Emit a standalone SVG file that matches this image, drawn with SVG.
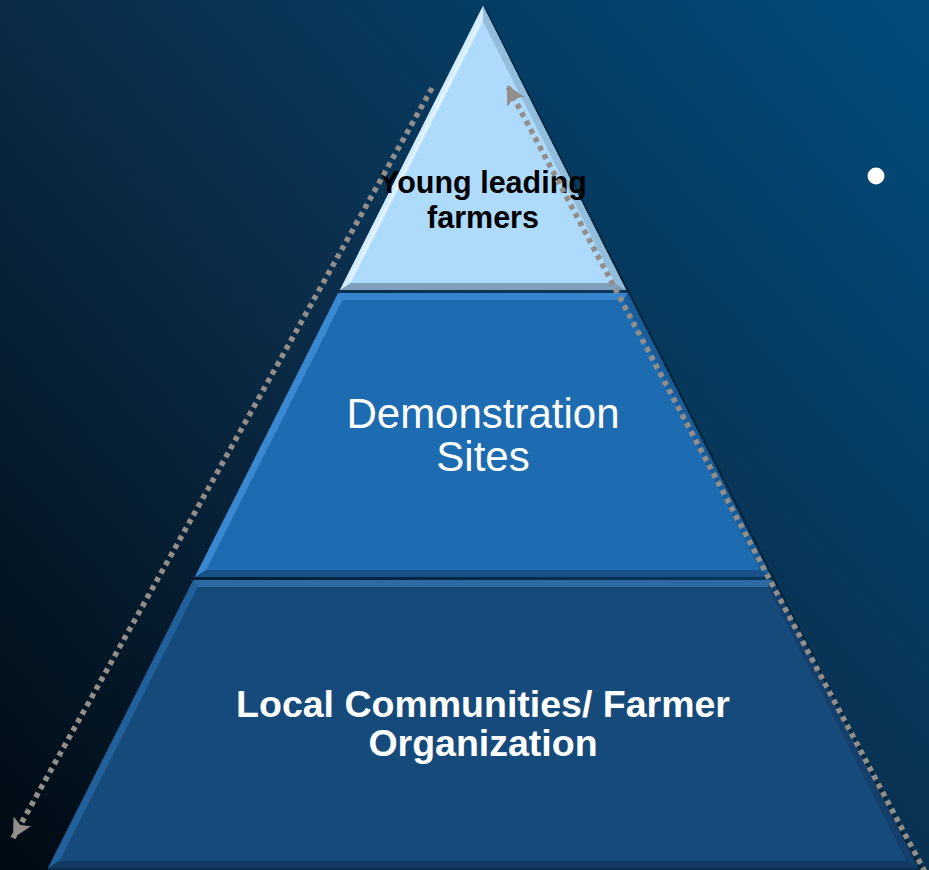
<svg xmlns="http://www.w3.org/2000/svg" width="929" height="870" viewBox="0 0 929 870">
  <defs>
    <linearGradient id="bg" gradientUnits="userSpaceOnUse" x1="0" y1="870" x2="929" y2="60">
      <stop offset="0" stop-color="#000a12"/>
      <stop offset="0.5" stop-color="#0b2d4a"/>
      <stop offset="1" stop-color="#004b7b"/>
    </linearGradient>
    <marker id="arr" markerUnits="userSpaceOnUse" markerWidth="24" markerHeight="24" refX="19" refY="10" orient="auto">
      <path d="M0,0 L19,10 L0,20 L4,10 Z" fill="#928e8b"/>
    </marker>
  </defs>
  <style>
    .lbl { font-family: "Liberation Sans", Arial, sans-serif; text-anchor: middle; }
    .conn { fill: none; stroke: #928e8b; stroke-width: 5.5; stroke-dasharray: 5 4.5; }
  </style>
  <rect x="0" y="0" width="929" height="870" fill="url(#bg)"/>

  <!-- right-edge shadow -->
  <path d="M484,8 L921,870" stroke="#021a2c" stroke-width="3" opacity="0.6" fill="none"/>

  <g id="top-level">
    <polygon points="483,6 340,290 626,290" fill="#aedafb"/>
    <polygon points="483,6 340,290 351,283 483,21.5" fill="#d2ecff"/>
    <polygon points="483,6 626,290 615,283 483,21.5" fill="#93bddd"/>
    <polygon points="340,290 626,290 615,283 351,283" fill="#7f9fbd"/>
    <path d="M479,24 L350,280" stroke="#e8f6ff" stroke-width="2" fill="none" opacity="0.8"/>
    <text class="lbl" x="483" y="193" font-size="30.5" font-weight="bold" fill="#000000">Young leading</text>
    <text class="lbl" x="483" y="228" font-size="30.5" font-weight="bold" fill="#000000">farmers</text>
  </g>

  <g id="middle-level">
    <polygon points="338.2,293 627.8,293 771.1,577 194.9,577" fill="#1d6bb0"/>
    <polygon points="338.2,293 627.8,293 623.5,300 342.5,300" fill="#3584cc"/>
    <polygon points="338.2,293 342.5,300 206.2,570 194.9,577" fill="#3a88cf"/>
    <polygon points="627.8,293 623.5,300 759.8,570 771.1,577" fill="#195d9b"/>
    <polygon points="194.9,577 771.1,577 759.8,570 206.2,570" fill="#16518a"/>
    <text class="lbl" x="483" y="428" font-size="42" fill="#ffffff">Demonstration</text>
    <text class="lbl" x="483" y="471" font-size="42" fill="#ffffff">Sites</text>
  </g>

  <g id="bottom-level">
    <polygon points="193.4,580 772.6,580 918,868 48,868" fill="#164a7b"/>
    <polygon points="193.4,580 772.6,580 768.3,587 197.7,587" fill="#2d69a3"/>
    <polygon points="193.4,580 197.7,587 59.4,861 48,868" fill="#21609a"/>
    <polygon points="772.6,580 768.3,587 906.6,861 918,868" fill="#133f6a"/>
    <polygon points="48,868 918,868 906.6,861 59.4,861" fill="#113b64"/>
    <rect x="48" y="868" width="870" height="2" fill="#0c2e4e"/>
    <text class="lbl" x="483" y="717" font-size="37.5" font-weight="bold" fill="#ffffff">Local Communities/ Farmer</text>
    <text class="lbl" x="483" y="756" font-size="37.5" font-weight="bold" fill="#ffffff">Organization</text>
  </g>

  <g id="bullet">
    <circle cx="876" cy="176" r="8.5" fill="#ffffff"/>
  </g>

  <g id="connectors">
    <line class="conn" x1="432" y1="88" x2="13" y2="838" marker-end="url(#arr)"/>
    <line class="conn" x1="925" y1="872" x2="507" y2="85" marker-end="url(#arr)"/>
  </g>
</svg>
